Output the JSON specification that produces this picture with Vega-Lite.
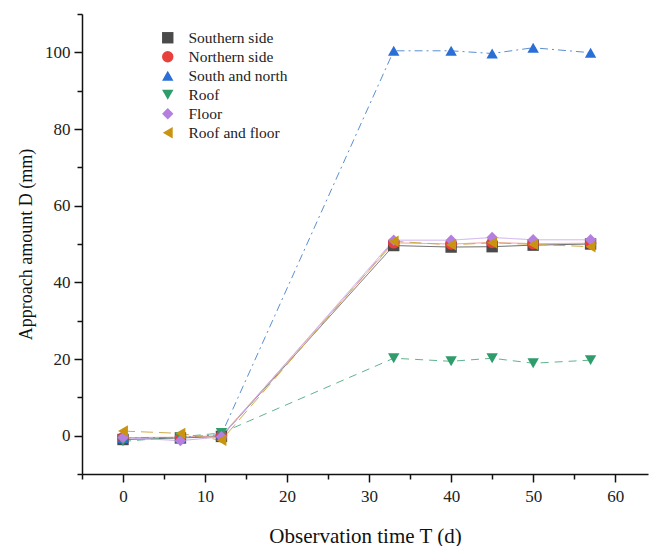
{
  "$schema": "https://vega.github.io/schema/vega-lite/v6.json",
  "autosize": "none",
  "width": 566,
  "height": 460,
  "padding": {"left": 82, "top": 14, "right": 1, "bottom": 72},
  "background": "white",
  "config": {
    "view": {"stroke": null},
    "font": "Liberation Serif",
    "axis": {"grid": false, "domainColor": "#111", "domainWidth": 1.5, "tickColor": "#111", "tickWidth": 1.5, "labelFont": "Liberation Serif", "titleFont": "Liberation Serif", "labelColor": "#222", "titleColor": "#111", "titleFontWeight": "normal", "labelFontSize": 17},
    "legend": {"labelFont": "Liberation Serif", "labelFontSize": 15.5, "labelColor": "#222"}
  },
  "data": {
    "values": [
      {"t": 0, "d": -1.0, "s": "Southern side"},
      {"t": 7, "d": -0.6, "s": "Southern side"},
      {"t": 12, "d": -0.2, "s": "Southern side"},
      {"t": 33, "d": 49.6, "s": "Southern side"},
      {"t": 40, "d": 49.2, "s": "Southern side"},
      {"t": 45, "d": 49.3, "s": "Southern side"},
      {"t": 50, "d": 49.7, "s": "Southern side"},
      {"t": 57, "d": 50.0, "s": "Southern side"},
      {"t": 0, "d": -0.5, "s": "Northern side"},
      {"t": 7, "d": -0.4, "s": "Northern side"},
      {"t": 12, "d": 0.0, "s": "Northern side"},
      {"t": 33, "d": 50.3, "s": "Northern side"},
      {"t": 40, "d": 50.0, "s": "Northern side"},
      {"t": 45, "d": 50.4, "s": "Northern side"},
      {"t": 50, "d": 50.1, "s": "Northern side"},
      {"t": 57, "d": 50.2, "s": "Northern side"},
      {"t": 0, "d": -0.6, "s": "South and north"},
      {"t": 7, "d": -0.5, "s": "South and north"},
      {"t": 12, "d": 0.3, "s": "South and north"},
      {"t": 33, "d": 100.4, "s": "South and north"},
      {"t": 40, "d": 100.4, "s": "South and north"},
      {"t": 45, "d": 99.7, "s": "South and north"},
      {"t": 50, "d": 101.2, "s": "South and north"},
      {"t": 57, "d": 99.9, "s": "South and north"},
      {"t": 0, "d": -1.5, "s": "Roof"},
      {"t": 7, "d": -0.3, "s": "Roof"},
      {"t": 12, "d": 0.7, "s": "Roof"},
      {"t": 33, "d": 20.2, "s": "Roof"},
      {"t": 40, "d": 19.4, "s": "Roof"},
      {"t": 45, "d": 20.2, "s": "Roof"},
      {"t": 50, "d": 18.9, "s": "Roof"},
      {"t": 57, "d": 19.7, "s": "Roof"},
      {"t": 0, "d": -0.5, "s": "Floor"},
      {"t": 7, "d": -1.3, "s": "Floor"},
      {"t": 12, "d": -0.3, "s": "Floor"},
      {"t": 33, "d": 51.0, "s": "Floor"},
      {"t": 40, "d": 51.0, "s": "Floor"},
      {"t": 45, "d": 51.7, "s": "Floor"},
      {"t": 50, "d": 51.1, "s": "Floor"},
      {"t": 57, "d": 51.1, "s": "Floor"},
      {"t": 0, "d": 1.2, "s": "Roof and floor"},
      {"t": 7, "d": 0.6, "s": "Roof and floor"},
      {"t": 12, "d": -1.2, "s": "Roof and floor"},
      {"t": 33, "d": 50.7, "s": "Roof and floor"},
      {"t": 40, "d": 49.8, "s": "Roof and floor"},
      {"t": 45, "d": 50.3, "s": "Roof and floor"},
      {"t": 50, "d": 49.9, "s": "Roof and floor"},
      {"t": 57, "d": 49.3, "s": "Roof and floor"}
    ]
  },
  "encoding": {
    "x": {
      "field": "t", "type": "quantitative",
      "scale": {"domain": [-5, 64], "nice": false, "zero": false},
      "axis": {
        "title": "Observation time T (d)", "titleFontSize": 21, "titlePadding": 21,
        "values": [-5, 0, 5, 10, 15, 20, 25, 30, 35, 40, 45, 50, 55, 60],
        "labelExpr": "datum.value % 10 === 0 ? datum.label : ''",
        "tickSize": {"condition": {"test": "datum.value % 10 === 0", "value": 8}, "value": 5},
        "labelPadding": 6
      }
    },
    "y": {
      "field": "d", "type": "quantitative",
      "scale": {"domain": [-10, 110], "nice": false, "zero": false},
      "axis": {
        "title": "Approach amount D (mm)", "titleFontSize": 18, "titlePadding": 9,
        "values": [-10, 0, 10, 20, 30, 40, 50, 60, 70, 80, 90, 100, 110],
        "labelExpr": "datum.value % 20 === 0 ? datum.label : ''",
        "tickSize": {"condition": {"test": "datum.value % 20 === 0", "value": 8}, "value": 5},
        "labelPadding": 4
      }
    }
  },
  "layer": [
    {
      "mark": {"type": "line", "strokeWidth": 1},
      "encoding": {
        "stroke": {
          "field": "s", "type": "nominal", "title": null,
          "scale": {
            "domain": ["Southern side", "Northern side", "South and north", "Roof", "Floor", "Roof and floor"],
            "range": ["#6b6b6b", "#e99a95", "#5b8fd0", "#5fb48e", "#c9a9ea", "#d1aa4c"]
          }
        },
        "strokeDash": {
          "field": "s", "type": "nominal", "title": null,
          "scale": {
            "domain": ["Southern side", "Northern side", "South and north", "Roof", "Floor", "Roof and floor"],
            "range": [[1, 0], [1, 0], [8, 4, 2, 4], [8, 6], [1, 0], [12, 6]]
          }
        }
      }
    },
    {
      "mark": {"type": "point", "filled": true, "size": 130, "opacity": 1},
      "encoding": {
        "fill": {
          "field": "s", "type": "nominal", "title": null,
          "scale": {
            "domain": ["Southern side", "Northern side", "South and north", "Roof", "Floor", "Roof and floor"],
            "range": ["#4a4a4a", "#e8413c", "#2a6fd6", "#2e9d6b", "#b57fe0", "#c9940f"]
          },
          "legend": {
            "orient": "none", "legendX": 78, "legendY": 16,
            "symbolSize": 130, "rowPadding": 2, "labelOffset": 13, "symbolStrokeWidth": 0
          }
        },
        "shape": {
          "field": "s", "type": "nominal", "title": null,
          "scale": {
            "domain": ["Southern side", "Northern side", "South and north", "Roof", "Floor", "Roof and floor"],
            "range": ["square", "circle", "triangle-up", "triangle-down", "diamond", "triangle-left"]
          }
        }
      }
    }
  ]
}
